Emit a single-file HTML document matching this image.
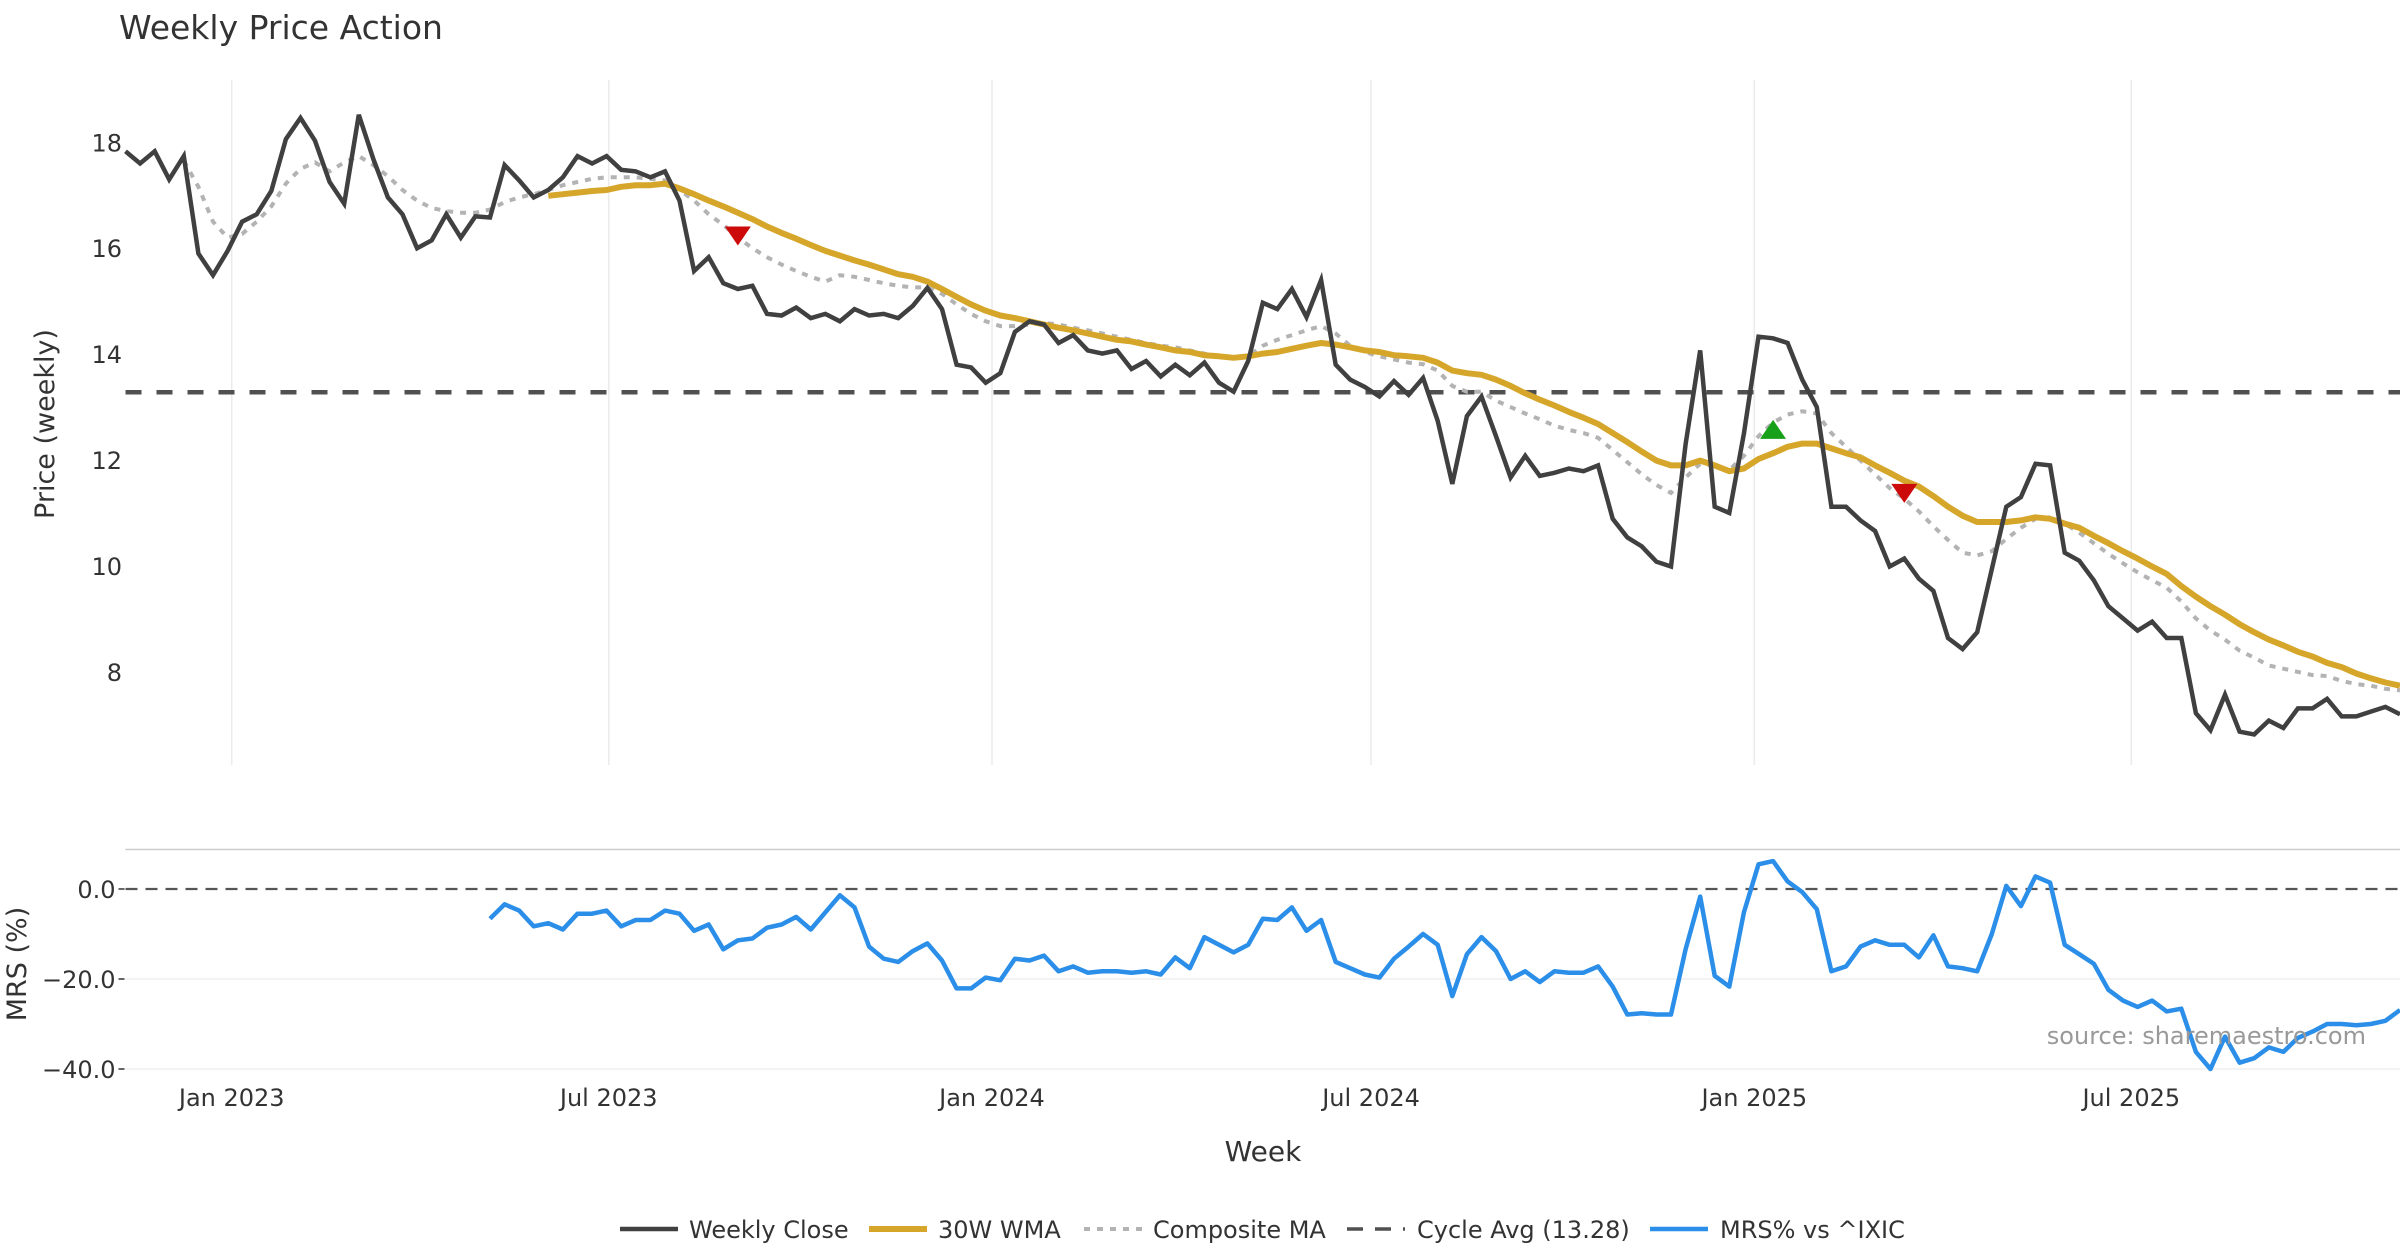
<!DOCTYPE html>
<html><head><meta charset="utf-8">
<style>
html,body{margin:0;padding:0;background:#fff;}
svg{display:block;font-family:"DejaVu Sans","Liberation Sans",sans-serif;}
</style></head>
<body>
<svg id="chart" width="2400" height="1260" viewBox="0 0 2400 1260" xmlns="http://www.w3.org/2000/svg">
<text x="119" y="39" font-size="33" fill="#333">Weekly Price Action</text>
<g id="grid"></g>
<g id="axes"></g>
<g id="series"></g>
<text transform="translate(54,424) rotate(-90)" text-anchor="middle" font-size="27" fill="#333">Price (weekly)</text>
<text transform="translate(26,964) rotate(-90)" text-anchor="middle" font-size="27" fill="#333">MRS (%)</text>
<text x="1263" y="1161" text-anchor="middle" font-size="28" fill="#333">Week</text>
<text x="2366" y="1044" text-anchor="end" font-size="24" fill="#999">source: sharemaestro.com</text>
<g id="legend"></g>
</svg>
<script>
const startDate = "2022-11-11";
const closeVals = [17.83,17.6,17.83,17.3,17.74,15.9,15.49,15.95,16.5,16.64,17.08,18.06,18.46,18.03,17.25,16.84,18.52,17.68,16.96,16.64,16.0,16.15,16.64,16.2,16.6,16.58,17.57,17.28,16.96,17.1,17.34,17.74,17.6,17.74,17.48,17.45,17.34,17.45,16.9,15.57,15.83,15.34,15.23,15.29,14.76,14.73,14.88,14.68,14.76,14.62,14.85,14.73,14.76,14.68,14.91,15.25,14.85,13.8,13.75,13.46,13.64,14.42,14.62,14.56,14.21,14.36,14.07,14.01,14.07,13.72,13.87,13.58,13.8,13.6,13.84,13.46,13.29,13.87,14.97,14.85,15.23,14.7,15.4,13.8,13.52,13.38,13.2,13.49,13.23,13.55,12.74,11.55,12.83,13.2,12.45,11.67,12.08,11.7,11.76,11.84,11.79,11.9,10.89,10.54,10.37,10.08,9.99,12.3,14.07,11.12,11.0,12.5,14.33,14.3,14.21,13.52,13.0,11.12,11.12,10.86,10.66,9.99,10.14,9.76,9.53,8.64,8.43,8.75,9.94,11.12,11.3,11.93,11.9,10.25,10.1,9.73,9.24,9.01,8.78,8.95,8.64,8.64,7.22,6.9,7.57,6.87,6.82,7.08,6.94,7.31,7.31,7.49,7.16,7.16,7.25,7.34,7.2];
const compositeVals = [null,null,null,null,17.65,17.16,16.5,16.2,16.27,16.5,16.79,17.22,17.5,17.62,17.45,17.62,17.74,17.57,17.36,17.1,16.9,16.76,16.7,16.67,16.67,16.73,16.87,16.96,17.02,17.1,17.19,17.25,17.31,17.34,17.34,17.34,17.31,17.28,17.1,16.9,16.64,16.44,16.2,16.0,15.83,15.69,15.57,15.46,15.37,15.49,15.46,15.4,15.34,15.29,15.26,15.26,15.14,14.94,14.76,14.62,14.53,14.53,14.56,14.59,14.56,14.5,14.45,14.39,14.33,14.27,14.21,14.16,14.13,14.07,14.01,13.96,13.93,13.96,14.16,14.27,14.36,14.45,14.53,14.39,14.16,14.04,13.96,13.9,13.84,13.81,13.69,13.4,13.29,13.29,13.12,13.0,12.88,12.77,12.65,12.57,12.51,12.42,12.19,11.96,11.73,11.53,11.38,11.67,11.93,11.9,11.81,12.08,12.45,12.71,12.86,12.92,12.88,12.51,12.25,11.99,11.73,11.47,11.27,11.03,10.75,10.49,10.25,10.2,10.28,10.51,10.72,10.89,10.92,10.8,10.63,10.43,10.23,10.05,9.88,9.73,9.59,9.33,9.01,8.78,8.61,8.4,8.27,8.12,8.06,8.0,7.94,7.92,7.83,7.77,7.74,7.68,7.65];
const wmaStart = 29;
const wmaVals = [16.99,17.02,17.05,17.08,17.1,17.16,17.19,17.19,17.22,17.13,17.02,16.9,16.79,16.67,16.55,16.41,16.29,16.18,16.06,15.95,15.86,15.77,15.69,15.6,15.51,15.46,15.37,15.23,15.08,14.94,14.82,14.73,14.68,14.62,14.56,14.5,14.45,14.39,14.33,14.27,14.24,14.18,14.13,14.07,14.04,13.98,13.96,13.93,13.96,14.01,14.04,14.1,14.16,14.21,14.18,14.13,14.07,14.04,13.98,13.96,13.93,13.84,13.69,13.64,13.61,13.52,13.4,13.26,13.14,13.03,12.91,12.8,12.68,12.51,12.34,12.16,11.99,11.9,11.9,11.99,11.9,11.79,11.84,12.02,12.13,12.25,12.31,12.31,12.22,12.13,12.05,11.9,11.76,11.61,11.5,11.32,11.12,10.95,10.83,10.83,10.83,10.86,10.92,10.89,10.8,10.72,10.57,10.43,10.28,10.14,9.99,9.85,9.62,9.42,9.24,9.08,8.9,8.75,8.61,8.5,8.38,8.29,8.17,8.09,7.97,7.88,7.8,7.74];
const mrsStart = 25;
const mrsVals = [-6.6,-3.4,-4.8,-8.3,-7.6,-9.0,-5.5,-5.5,-4.8,-8.3,-6.9,-6.9,-4.8,-5.5,-9.3,-7.9,-13.4,-11.4,-11.0,-8.6,-7.9,-6.2,-9.0,-5.2,-1.4,-4.1,-12.8,-15.5,-16.2,-13.8,-12.1,-15.9,-22.1,-22.1,-19.7,-20.3,-15.5,-15.9,-14.8,-18.3,-17.2,-18.6,-18.3,-18.3,-18.6,-18.3,-19.0,-15.2,-17.6,-10.7,-12.4,-14.1,-12.4,-6.6,-6.9,-4.1,-9.3,-6.9,-16.2,-17.6,-19.0,-19.7,-15.5,-12.8,-10.0,-12.4,-23.8,-14.5,-10.7,-13.8,-20.0,-18.3,-20.7,-18.3,-18.6,-18.6,-17.2,-21.7,-27.9,-27.6,-27.9,-27.9,-13.4,-1.7,-19.3,-21.7,-5.2,5.5,6.2,1.7,-0.7,-4.5,-18.3,-17.2,-12.8,-11.4,-12.4,-12.4,-15.2,-10.3,-17.2,-17.6,-18.3,-10.0,0.7,-3.8,2.8,1.4,-12.4,-14.5,-16.6,-22.4,-24.8,-26.2,-24.8,-27.2,-26.6,-36.2,-40.0,-32.8,-38.6,-37.6,-35.2,-36.2,-33.1,-31.7,-30.0,-30.0,-30.3,-30.0,-29.3,-26.9];
const cycleAvg = 13.28;
const markerIdx = [42,113,122];
const markerVal = [16.24,12.57,11.38];
const markerType = ["sell","buy","sell"];
const priceTicks = [8,10,12,14,16,18];
const mrsTicks = [0,-20,-40];
const mrsTickLabels = ["0.0","\u221220.0","\u221240.0"];
const dateTicks = ["2023-01-01","2023-07-01","2024-01-01","2024-07-01","2025-01-01","2025-07-01"];
const dateTickLabels = ["Jan 2023","Jul 2023","Jan 2024","Jul 2024","Jan 2025","Jul 2025"];

const NS="http://www.w3.org/2000/svg";
const X0=125.5, X1=2400, N=closeVals.length;
const t0=Date.parse(startDate);
const WEEK=7*86400000;
const xIdx=i=>X0+i*(X1-X0)/(N-1);
const xDate=d=>xIdx((Date.parse(d)-t0)/WEEK);
const yP=v=>142.3+(18-v)*52.96;
const yM=v=>889-v*2.94*1.5306;
function mk(tag,attrs,parent){const e=document.createElementNS(NS,tag);for(const k in attrs)e.setAttribute(k,attrs[k]);parent.appendChild(e);return e;}
const gridG=document.getElementById('grid'),axesG=document.getElementById('axes'),seriesG=document.getElementById('series'),legendG=document.getElementById('legend');

dateTicks.forEach((d,i)=>{
  const x=xDate(d);
  const g=mk('line',{x1:x,x2:x,y1:80,y2:765,stroke:'#ebebeb','stroke-width':1.5},gridG);
  
  
  const t=mk('text',{x:x,y:1106,'text-anchor':'middle','font-size':24,fill:'#333'},axesG);
  t.textContent=dateTickLabels[i];
  
  
});
priceTicks.forEach(v=>{
  const t=mk('text',{x:122,y:yP(v)+9,'text-anchor':'end','font-size':24,fill:'#333'},axesG);
  t.textContent=v;
  
  
});
const panelTop=mk('line',{x1:X0,x2:X1,y1:849.5,y2:849.5,stroke:'#cccccc','stroke-width':1.5},axesG);


mrsTicks.forEach((v,i)=>{
  const y=yM(v);
  if(v!==0){const g=mk('line',{x1:X0,x2:X1,y1:y,y2:y,stroke:'#ececec','stroke-width':1.2},gridG);
    
    }
  const tk=mk('line',{x1:X0-7,x2:X0-1,y1:y,y2:y,stroke:'#333','stroke-width':1.5},axesG);
  
  
  const t=mk('text',{x:X0-10,y:y+9,'text-anchor':'end','font-size':24,fill:'#333'},axesG);
  t.textContent=mrsTickLabels[i];
  
  
});
function pathFrom(vals,off,yf){let d='',pen=false;vals.forEach((v,i)=>{if(v===null||v===undefined){pen=false;return;}d+=(pen?'L':'M')+xIdx(i+off).toFixed(1)+','+yf(v).toFixed(1);pen=true;});return d;}

const cy=mk('line',{x1:X0,x2:X1,y1:yP(cycleAvg),y2:yP(cycleAvg),stroke:'#505050','stroke-width':4.5,'stroke-dasharray':'16,15'},seriesG);


const zl=mk('line',{x1:X0,x2:X1,y1:yM(0),y2:yM(0),stroke:'#555','stroke-width':2.2,'stroke-dasharray':'12,8'},seriesG);


const cm=mk('path',{d:pathFrom(compositeVals,0,yP),fill:'none',stroke:'#b3b3b3','stroke-width':4,'stroke-dasharray':'6,7'},seriesG);


const wm=mk('path',{d:pathFrom(wmaVals,wmaStart,yP),fill:'none',stroke:'#d6a62a','stroke-width':6,'stroke-linejoin':'round'},seriesG);


const cl=mk('path',{d:pathFrom(closeVals,0,yP),fill:'none',stroke:'#404040','stroke-width':4.5,'stroke-linejoin':'miter'},seriesG);


const ml=mk('path',{d:pathFrom(mrsVals,mrsStart,yM),fill:'none',stroke:'#2b8ee8','stroke-width':4.5,'stroke-linejoin':'round'},seriesG);


markerIdx.forEach((idx,i)=>{
  const x=xIdx(idx),y=yP(markerVal[i]),s=13;
  const pts=markerType[i]==='sell'?`${x-s},${y-9} ${x+s},${y-9} ${x},${y+10}`:`${x-s},${y+9} ${x+s},${y+9} ${x},${y-10}`;
  const p=mk('polygon',{points:pts,fill:markerType[i]==='sell'?'#cc0a0a':'#17a01a'},seriesG);
  
  
});
const leg=[["Weekly Close",620,689,'#404040',4.5,''],["30W WMA",869,938,'#d6a62a',6,''],["Composite MA",1084,1153,'#b3b3b3',4,'6,7'],["Cycle Avg (13.28)",1347,1417,'#505050',3.5,'16,12'],["MRS% vs ^IXIC",1650,1720,'#2b8ee8',4.5,'']];
leg.forEach(e=>{
  const l=mk('line',{x1:e[1],x2:e[1]+58,y1:1229,y2:1229,stroke:e[3],'stroke-width':e[4]},legendG);
  if(e[5])l.setAttribute('stroke-dasharray',e[5]);
  
  
  const t=mk('text',{x:e[2],y:1238,'font-size':24,fill:'#333'},legendG);
  t.textContent=e[0];
  
  
});
</script>
</body></html>
